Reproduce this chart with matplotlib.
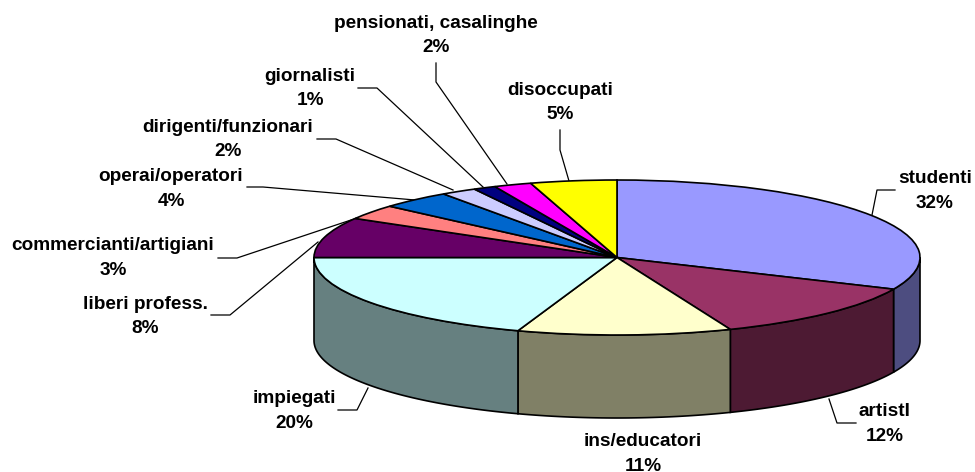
import numpy as np
import matplotlib
matplotlib.use('Agg')
import matplotlib.pyplot as plt
from matplotlib.transforms import Affine2D

plt.rcParams['font.family'] = ['Liberation Sans', 'DejaVu Sans']

# categorie e valori
categorie = ['studenti', 'artistI', 'ins/educatori', 'impiegati', 'liberi profess.',
             'commercianti/artigiani', 'operai/operatori', 'dirigenti/funzionari',
             'giornalisti', 'pensionati, casalinghe', 'disoccupati']
valori = [31.7, 12.2, 11.4, 19.7, 8.4, 3.1, 3.8, 1.9, 1.2, 2.0, 4.6]
colori = ['#9999FF', '#993366', '#FFFFCC', '#CCFFFF', '#660066', '#FF8080',
          '#0066CC', '#CCCCFF', '#000080', '#FF00FF', '#FFFF00']
colori_lato = ['#4D4D80', '#4D1A33', '#808066', '#668080', '#330033', '#804040',
               '#003366', '#666680', '#000040', '#800080', '#808000']

# posizione delle etichette (centro del testo) in pixel
pos_etichette = [(935, 191), (884.5, 424), (643, 454), (294, 411), (145, 316.5),
                 (113, 258), (171, 189), (228, 139.5), (310, 88.5), (436, 35.5), (560, 102.5)]
# linee guida, in pixel
guide = [
    [(895, 190), (877, 190), (872, 215)],
    [(856, 423), (837, 423), (829, 399)],
    None,
    [(338, 410), (357, 410), (368, 388)],
    [(211, 315), (230, 315), (318, 242)],
    [(218, 258), (237, 258), (357, 218)],
    [(247, 187), (263, 187), (415, 200)],
    [(317, 139), (336, 139), (453, 190)],
    [(358, 88), (377, 88), (483, 187)],
    [(436, 63), (436, 82), (507, 184)],
    [(560, 130), (560, 150), (569, 181)],
]

# geometria della torta
cx, cy = 617, 257.5
rx, ry = 303, 77.5
spessore = 83

fig = plt.figure(figsize=(9.75, 4.72), dpi=100)
ax = fig.add_axes([0, 0, 1, 1])

# prima le linee guida
for g in guide:
    if g is not None:
        ax.plot([p[0] for p in g], [p[1] for p in g], color='black', lw=0.9, zorder=1)

# lato della torta: solo la parte davanti, da 90 a 270 gradi in senso orario dall'alto
fine = np.cumsum(valori) * 3.6
inizio = fine - np.array(valori) * 3.6
for a0, a1, c in zip(inizio, fine, colori_lato):
    a0 = max(a0, 90)
    a1 = min(a1, 270)
    if a1 <= a0:
        continue
    a = np.radians(np.linspace(a0, a1, 80))
    x = cx + rx * np.sin(a)
    y = cy - ry * np.cos(a)
    ax.fill(np.r_[x, x[::-1]], np.r_[y, y[::-1] + spessore],
            facecolor=c, edgecolor='black', lw=1.2, zorder=2)

# sopra: la torta, schiacciata in ellisse
ellisse = Affine2D().scale(rx, -ry).translate(cx, cy) + ax.transData
ax.pie(valori, colors=colori, startangle=90, counterclock=False, radius=1,
       wedgeprops={'edgecolor': 'black', 'linewidth': 1.2, 'transform': ellisse, 'zorder': 3})

for nome, v, (tx, ty) in zip(categorie, valori, pos_etichette):
    ax.text(tx, ty, f'{nome}\n{round(v)}%', ha='center', va='center',
            fontsize=13.7, fontweight='bold', color='black', linespacing=1.6, zorder=4)

ax.set_aspect('auto')
ax.set_xlim(0, 975)
ax.set_ylim(472, 0)
ax.axis('off')

fig.savefig('out.png', dpi=100, facecolor='white')
